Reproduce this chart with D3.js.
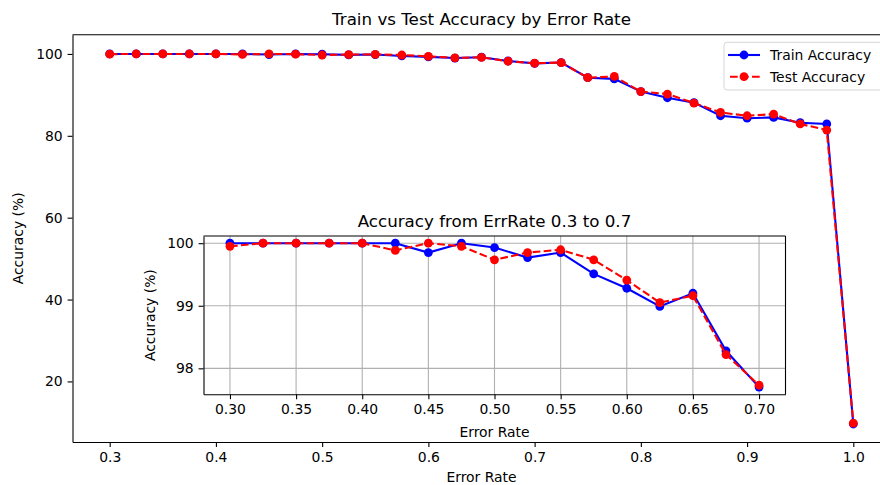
<!DOCTYPE html>
<html>
<head>
<meta charset="utf-8">
<script src="https://cdn.jsdelivr.net/npm/d3@7"></script>
<style>
	body { margin: 0; background: #fff; }
	svg { display: block; font-family: "DejaVu Sans", sans-serif; }
	.axis path, .axis line { stroke: #000; stroke-width: 1.1; }
	.axis text { font-size: 13.9px; fill: #000; font-family: "DejaVu Sans", sans-serif; }
	.grid line { stroke: #b0b0b0; stroke-width: 1.1; }
</style>
</head>
<body>
<div id="chart"></div>
<script>

// Data

var errorRates = [0.3, 0.325, 0.35, 0.375, 0.4, 0.425, 0.45, 0.475, 0.5, 0.525, 0.55, 0.575, 0.6, 0.625, 0.65, 0.675, 0.7,
	0.725, 0.75, 0.775, 0.8, 0.825, 0.85, 0.875, 0.9, 0.925, 0.95, 0.975, 1.0];

var trainAccuracy = [100.0, 100.0, 100.0, 100.0, 100.0, 100.0, 99.85, 100.0, 99.93, 99.77, 99.85, 99.51, 99.28, 98.99, 99.20, 98.28, 97.70,
	97.9, 94.2, 93.9, 90.8, 89.3, 88.1, 84.9, 84.3, 84.5, 83.2, 82.9, 9.6];

var testAccuracy = [99.95, 100.0, 100.0, 100.0, 100.0, 99.885, 100.0, 99.95, 99.735, 99.85, 99.895, 99.735, 99.41, 99.05, 99.16, 98.22, 97.73,
	97.9, 94.2, 94.5, 90.8, 90.2, 88.0, 85.7, 84.9, 85.3, 82.9, 81.4, 9.8];

var mainXTicks = [0.3, 0.4, 0.5, 0.6, 0.7, 0.8, 0.9, 1.0];
var mainYTicks = [20, 40, 60, 80, 100];
var insetXTicks = [0.30, 0.35, 0.40, 0.45, 0.50, 0.55, 0.60, 0.65, 0.70];
var insetYTicks = [98, 99, 100];
var insetMax = 0.7;

var series = [
	{ name: "Train Accuracy", values: trainAccuracy, color: "#0000ff", dash: null },
	{ name: "Test Accuracy", values: testAccuracy, color: "#ff0000", dash: "7.7,3.3" }
];

// Setup

var width = 880, height = 485;

var svg = d3.select("#chart").append("svg")
	.attr("width", width)
	.attr("height", height)
	.style("overflow", "hidden");

// Main axes box (right edge runs past the picture, as in the reference)
var main = { left: 72.5, right: 890.5, top: 34.7, bottom: 442 };

var x = d3.scaleLinear().domain([0.265, 1.035]).range([main.left, main.right]);
var y = d3.scaleLinear().domain([5.2, 104.7]).range([main.bottom, main.top]);

function drawAxes(g, xs, ys, box, xt, yt, xfmt, yfmt) {
	g.append("g").attr("class", "axis")
		.attr("transform", "translate(0," + box.bottom + ")")
		.call(d3.axisBottom(xs).tickValues(xt).tickFormat(xfmt).tickSize(4.9).tickSizeOuter(0).tickPadding(4.9));
	g.append("g").attr("class", "axis")
		.attr("transform", "translate(" + box.left + ",0)")
		.call(d3.axisLeft(ys).tickValues(yt).tickFormat(yfmt).tickSize(4.9).tickSizeOuter(0).tickPadding(4.9));
	// top and right spines
	g.append("line").attr("x1", box.left).attr("x2", box.right).attr("y1", box.top).attr("y2", box.top)
		.attr("stroke", "#000").attr("stroke-width", 1.1);
	g.append("line").attr("x1", box.right).attr("x2", box.right).attr("y1", box.top).attr("y2", box.bottom)
		.attr("stroke", "#000").attr("stroke-width", 1.1);
}

function drawSeries(g, xs, ys, xsData, s, r) {
	var pts = xsData.map(function(d, i) { return [d, s.values[i]]; });
	var line = d3.line().x(function(d) { return xs(d[0]); }).y(function(d) { return ys(d[1]); });
	g.append("path")
		.attr("d", line(pts))
		.attr("fill", "none")
		.attr("stroke", s.color)
		.attr("stroke-width", 2.1)
		.attr("stroke-dasharray", s.dash);
	g.selectAll(null).data(pts).enter().append("circle")
		.attr("cx", function(d) { return xs(d[0]); })
		.attr("cy", function(d) { return ys(d[1]); })
		.attr("r", r)
		.attr("fill", s.color);
}

// Main chart

var mainG = svg.append("g");

series.forEach(function(s) {
	drawSeries(mainG, x, y, errorRates, s, 4.4);
});

drawAxes(mainG, x, y, main, mainXTicks, mainYTicks, d3.format(".1f"), d3.format("d"));

svg.append("text")
	.attr("x", (main.left + main.right) / 2)
	.attr("y", 25)
	.attr("text-anchor", "middle")
	.style("font-size", "16.7px")
	.text("Train vs Test Accuracy by Error Rate");

svg.append("text")
	.attr("x", (main.left + main.right) / 2)
	.attr("y", 481.5)
	.attr("text-anchor", "middle")
	.style("font-size", "13.9px")
	.text("Error Rate");

svg.append("text")
	.attr("transform", "translate(23," + ((main.top + main.bottom) / 2) + ") rotate(-90)")
	.attr("text-anchor", "middle")
	.style("font-size", "13.9px")
	.text("Accuracy (%)");

// Legend

var legend = svg.append("g").attr("transform", "translate(724,42.3)");

legend.append("rect")
	.attr("width", 160)
	.attr("height", 47.7)
	.attr("rx", 3)
	.attr("fill", "rgba(255,255,255,0.8)")
	.attr("stroke", "#d6d6d6")
	.attr("stroke-width", 1);

series.forEach(function(s, i) {
	var ly = 12.7 + i * 21.7;
	legend.append("line")
		.attr("x1", 4).attr("x2", 36).attr("y1", ly).attr("y2", ly)
		.attr("stroke", s.color)
		.attr("stroke-width", 2.1)
		.attr("stroke-dasharray", s.dash ? "7.7,3.3" : null)
		.attr("stroke-dashoffset", s.dash ? -2 : null);
	legend.append("circle").attr("cx", 20).attr("cy", ly).attr("r", 4.4).attr("fill", s.color);
	legend.append("text")
		.attr("x", 46)
		.attr("y", ly + 5)
		.style("font-size", "13.9px")
		.text(s.name);
});

// Inset chart

var inset = { left: 203.5, right: 785.5, top: 236, bottom: 394.3 };

var ix = d3.scaleLinear().domain([0.28, 0.72]).range([inset.left, inset.right]);
var iy = d3.scaleLinear().domain([97.585, 100.115]).range([inset.bottom, inset.top]);

var insetG = svg.append("g");

insetG.append("rect")
	.attr("x", inset.left).attr("y", inset.top)
	.attr("width", inset.right - inset.left)
	.attr("height", inset.bottom - inset.top)
	.attr("fill", "#fff");

var grid = insetG.append("g").attr("class", "grid");

grid.selectAll(null).data(insetXTicks).enter().append("line")
	.attr("x1", function(d) { return ix(d); }).attr("x2", function(d) { return ix(d); })
	.attr("y1", inset.top).attr("y2", inset.bottom);

grid.selectAll(null).data(insetYTicks).enter().append("line")
	.attr("x1", inset.left).attr("x2", inset.right)
	.attr("y1", function(d) { return iy(d); }).attr("y2", function(d) { return iy(d); });

var insetRates = errorRates.filter(function(d) { return d <= insetMax + 1e-9; });

series.forEach(function(s) {
	drawSeries(insetG, ix, iy, insetRates, { color: s.color, dash: s.dash, values: s.values.slice(0, insetRates.length) }, 4.4);
});

drawAxes(insetG, ix, iy, inset, insetXTicks, insetYTicks, d3.format(".2f"), d3.format("d"));

svg.append("text")
	.attr("x", (inset.left + inset.right) / 2)
	.attr("y", 227)
	.attr("text-anchor", "middle")
	.style("font-size", "16.7px")
	.text("Accuracy from ErrRate 0.3 to 0.7");

svg.append("text")
	.attr("x", (inset.left + inset.right) / 2)
	.attr("y", 436.5)
	.attr("text-anchor", "middle")
	.style("font-size", "13.9px")
	.text("Error Rate");

svg.append("text")
	.attr("transform", "translate(155," + ((inset.top + inset.bottom) / 2) + ") rotate(-90)")
	.attr("text-anchor", "middle")
	.style("font-size", "13.9px")
	.text("Accuracy (%)");

</script>
</body>
</html>
